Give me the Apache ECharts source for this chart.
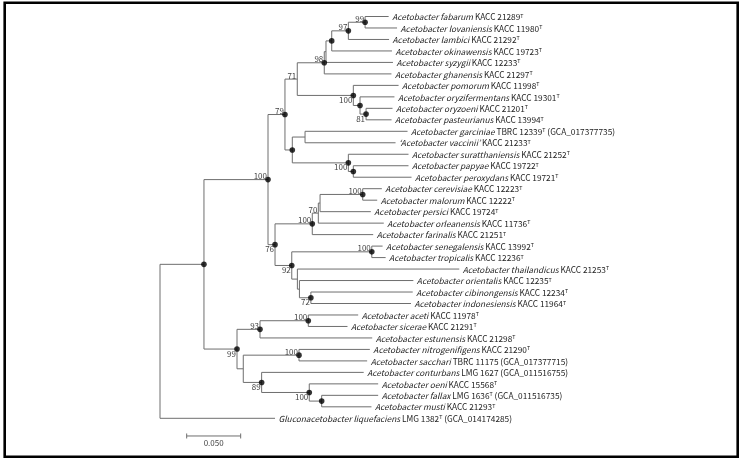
<!DOCTYPE html>
<html><head><meta charset="utf-8">
<script src="https://cdn.jsdelivr.net/npm/echarts@6/dist/echarts.min.js"></script>
<style>html,body{margin:0;padding:0;background:#fff}#c{width:755px;height:459px}</style>
</head><body><div id="c"></div>
<script>
// ---------- DATA ----------
const leafNames = [
  'Acetobacter fabarum','Acetobacter lovaniensis','Acetobacter lambici','Acetobacter okinawensis',
  'Acetobacter syzygii','Acetobacter ghanensis','Acetobacter pomorum','Acetobacter oryzifermentans',
  'Acetobacter oryzoeni','Acetobacter pasteurianus','Acetobacter garciniae','\u2018Acetobacter vaccinii\u2019',
  'Acetobacter suratthaniensis','Acetobacter papyae','Acetobacter peroxydans','Acetobacter cerevisiae',
  'Acetobacter malorum','Acetobacter persici','Acetobacter orleanensis','Acetobacter farinalis',
  'Acetobacter senegalensis','Acetobacter tropicalis','Acetobacter thailandicus','Acetobacter orientalis',
  'Acetobacter cibinongensis','Acetobacter indonesiensis','Acetobacter aceti','Acetobacter sicerae',
  'Acetobacter estunensis','Acetobacter nitrogenifigens','Acetobacter sacchari','Acetobacter conturbans',
  'Acetobacter oeni','Acetobacter fallax','Acetobacter musti','Gluconacetobacter liquefaciens'
];
const leafStrains = [
  'KACC 21289','KACC 11980','KACC 21292','KACC 19723','KACC 12233','KACC 21297','KACC 11998','KACC 19301',
  'KACC 21201','KACC 13994','TBRC 12339','KACC 21233','KACC 21252','KACC 19722','KACC 19721','KACC 12223',
  'KACC 12222','KACC 19724','KACC 11736','KACC 21251','KACC 13992','KACC 12236','KACC 21253','KACC 12235',
  'KACC 12234','KACC 11964','KACC 11978','KACC 21291','KACC 21298','KACC 21290','TBRC 11175','LMG 1627',
  'KACC 15568','LMG 1636','KACC 21293','LMG 1382'
];
const leafTypeStrain = [
  1,1,1,1,1,1,1,1,1,1,1,1,1,1,1,1,1,1,1,1,1,1,1,1,1,1,1,1,1,1,0,0,1,1,1,1
];
const leafAccessions = [
  '','','','','','','','','','','GCA_017377735','','','','','','','','','','','','','','','','','','','',
  'GCA_017377715','GCA_011516755','','GCA_011516735','','GCA_014174285'
];
const leafBranchLengths = [
  0.0218,0.0296,0.0377,0.0558,0.0620,0.0622,0.0419,0.0319,0.0245,0.0236,0.0949,0.0838,
  0.0557,0.0511,0.0539,0.0177,0.0134,0.0470,0.0606,0.0564,0.0100,0.0128,0.1499,0.1055,
  0.0943,0.0927,0.0462,0.0363,0.1039,0.0656,0.0631,0.0945,0.0638,0.0523,0.0461,0.1065
];
// internal nodes: children are node ids or leaf indices
const nodeIds = ['root','A','B','D','F','H','K','J','L','M','I','N','O','G','P','Q','R',
  'E','T','U1','U2','V','S','W','X1','X2','Y','C','Z','AF','AA','AB','AC','AD','AE'];
const nodeChildren = [
  ['A',35],['B','C'],['D','E'],['F','G'],['H','I'],['K',5],['J',4],['L',3],['M',2],[0,1],
  [6,'N'],[7,'O'],[8,9],['P','Q'],[10,11],[12,'R'],[13,14],
  ['T','S'],['U1',19],['U2',18],['V',17],[15,16],['W','X1'],[20,21],[22,'X2'],[23,'Y'],[24,25],
  ['Z','AA'],['AF',28],[26,27],['AB','AC'],[29,30],[31,'AD'],[32,'AE'],[33,34]
];
const nodeBranchLengths = [
  0,0.0407,0.0593,0.0157,0.0114,0.0250,0.0016,0.0053,0.0154,0.0155,
  0.0519,0.0062,0.0056,0.0068,0.0118,0.0519,0.0046,
  0.0065,0.0345,0.0056,0.0016,0.0395,0.0155,0.0741,0.0052,0.0019,0.0106,
  0.0306,0.0213,0.0447,0.0058,0.0516,0.0170,0.0441,0.0115
];
const nodeBootstrap = [
  null,null,100,79,71,98,null,null,97,99,
  100,null,81,null,null,100,null,
  76,100,70,null,100,92,100,null,null,72,
  99,93,100,null,100,89,100,null
];
const nodeMarked = [
  0,1,1,1,0,1,0,1,1,1,
  1,1,1,1,0,1,1,
  1,1,0,0,1,1,1,0,0,1,
  1,1,1,0,1,1,1,1
];
const scaleBarLength = 0.05;
const scaleBarLabel = '0.050';

// ---------- LAYOUT (derived) ----------
const idx = {}; nodeIds.forEach((id, i) => idx[id] = i);
const nodeDepth = [], nodeY = [], nodeSpan = [], nodeParentDepth = [], nodeUpper = [];
const leafDepth = [], leafParentDepth = [];
function walk(id, depth, parentDepth, upper) {
  const i = idx[id];
  nodeDepth[i] = depth; nodeParentDepth[i] = parentDepth; nodeUpper[i] = upper;
  const ch = nodeChildren[i];
  const ys = ch.map((c, k) => {
    if (typeof c === 'number') {
      leafDepth[c] = depth + leafBranchLengths[c];
      leafParentDepth[c] = depth;
      return c;
    }
    const j = idx[c];
    walk(c, depth + nodeBranchLengths[j], depth, k === 0);
    return nodeY[j];
  });
  nodeY[i] = (ys[0] + ys[ys.length - 1]) / 2;
  nodeSpan[i] = [ys[0], ys[ys.length - 1]];
}
walk('root', 0, null, true);

const hLines = [], vLines = [], dots = [], boots = [], labels = [];
nodeIds.forEach((id, i) => {
  vLines.push([nodeDepth[i], nodeSpan[i][0], nodeSpan[i][1]]);
  if (nodeParentDepth[i] !== null) hLines.push([nodeParentDepth[i], nodeDepth[i], nodeY[i]]);
  if (nodeMarked[i]) dots.push([nodeDepth[i], nodeY[i]]);
  if (nodeBootstrap[i] !== null) boots.push([nodeDepth[i], nodeY[i], nodeBootstrap[i], nodeUpper[i] ? 1 : 0]);
});
leafNames.forEach((n, i) => {
  hLines.push([leafParentDepth[i], leafDepth[i], i]);
  labels.push([leafDepth[i], i, i]);
});

const FONT = '"Noto Sans CJK KR","Noto Sans",sans-serif';
const LINE = '#6e6e6e';
const LFS = 8.3;
function labelText(i) {
  let s = '{i|' + leafNames[i] + '} ' + leafStrains[i];
  if (leafTypeStrain[i]) s += '{s|T}';
  if (leafAccessions[i]) s += ' (' + leafAccessions[i] + ')';
  return s;
}

const chart = echarts.init(document.getElementById('c'), null, {renderer: 'canvas'});
chart.setOption({
  animation: false,
  backgroundColor: '#fff',
  grid: {left: 160, width: 540, top: 16.5, height: 401.8},
  xAxis: {type: 'value', min: 0, max: 0.5, show: false},
  yAxis: {type: 'value', min: 0, max: 35, inverse: true, show: false},
  graphic: [{
    type: 'rect', shape: {x: 4.7, y: 2.8, width: 733, height: 453.9},
    style: {fill: 'none', stroke: '#000', lineWidth: 2.6}, silent: true
  }],
  series: [
    {
      type: 'custom', data: vLines, silent: true,
      renderItem(p, api) {
        const a = api.coord([api.value(0), api.value(1)]);
        const b = api.coord([api.value(0), api.value(2)]);
        return {type: 'line', shape: {x1: a[0], y1: a[1], x2: b[0], y2: b[1]}, style: {stroke: LINE, lineWidth: 1}};
      }
    },
    {
      type: 'custom', data: hLines, silent: true,
      renderItem(p, api) {
        const a = api.coord([api.value(0), api.value(2)]);
        const b = api.coord([api.value(1), api.value(2)]);
        return {type: 'line', shape: {x1: a[0], y1: a[1], x2: b[0], y2: b[1]}, style: {stroke: LINE, lineWidth: 1}};
      }
    },
    {
      type: 'scatter', data: dots, symbol: 'circle', symbolSize: 5.6, silent: true,
      itemStyle: {color: '#000'}, z: 5
    },
    {
      type: 'custom', data: boots, silent: true, z: 6,
      renderItem(p, api) {
        const c = api.coord([api.value(0), api.value(1)]);
        const up = api.value(3) === 1;
        return {type: 'text', x: c[0] - 1, y: c[1] + 0.5,
          style: {text: String(api.value(2)), fill: '#444', fontSize: 8, fontFamily: FONT,
            align: 'right', verticalAlign: up ? 'bottom' : 'top'}};
      }
    },
    {
      type: 'custom', data: labels, silent: true,
      renderItem(p, api) {
        const c = api.coord([api.value(0), api.value(1)]);
        const i = api.value(2);
        return {type: 'text', x: c[0] + 3.5, y: c[1] + 0.5,
          style: {text: labelText(i), fill: '#222', fontSize: LFS, fontFamily: FONT,
            align: 'left', verticalAlign: 'middle',
            rich: {
              i: {fontStyle: 'italic', fontSize: LFS, fontFamily: FONT, fill: '#222'},
              s: {fontSize: 5.3, fontFamily: FONT, fill: '#222', verticalAlign: 'top'}
            }}};
      }
    },
    {
      type: 'custom', data: [[scaleBarLength]], silent: true,
      renderItem(p, api) {
        const x0 = 0.0247, yb = 36.54;
        const a = api.coord([x0, yb]);
        const b = api.coord([x0 + api.value(0), yb]);
        return {type: 'group', children: [
          {type: 'line', shape: {x1: a[0], y1: a[1], x2: b[0], y2: b[1]}, style: {stroke: LINE, lineWidth: 1}},
          {type: 'line', shape: {x1: a[0], y1: a[1] - 2.5, x2: a[0], y2: a[1] + 2.5}, style: {stroke: LINE, lineWidth: 1}},
          {type: 'line', shape: {x1: b[0], y1: b[1] - 2.5, x2: b[0], y2: b[1] + 2.5}, style: {stroke: LINE, lineWidth: 1}},
          {type: 'text', x: (a[0] + b[0]) / 2, y: a[1] + 3,
            style: {text: scaleBarLabel, fill: '#444', fontSize: 8, fontFamily: FONT, align: 'center', verticalAlign: 'top'}}
        ]};
      }
    }
  ]
});
</script></body></html>
